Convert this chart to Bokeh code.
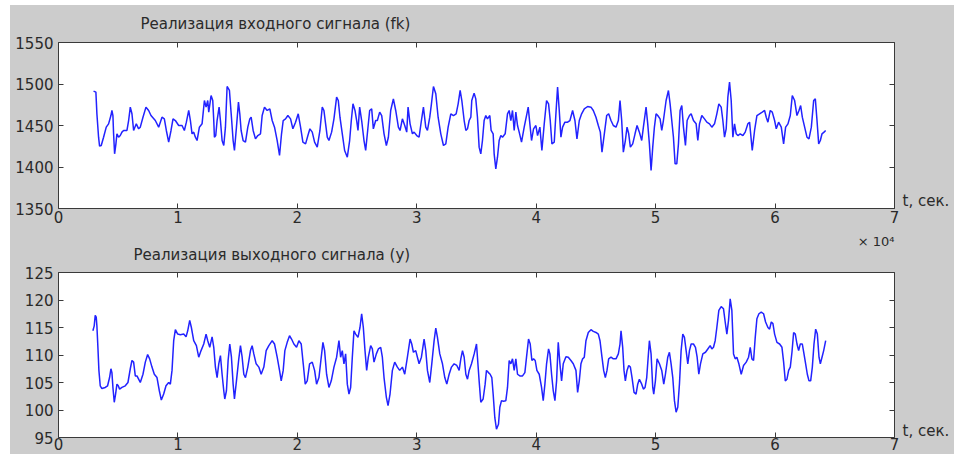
from bokeh.plotting import figure
from bokeh.models import LinearAxis, FixedTicker, Range1d, Title
from bokeh.layouts import column
from bokeh.embed import file_html
from bokeh.resources import INLINE

# ---------------- data (time in seconds) ----------------
t_in_a = [2935, 3131, 3215, 3355, 3439, 3578, 3774, 3998, 4193, 4389,
          4473, 4557, 4613, 4697, 4808, 4892, 5032, 5172, 5312, 5451,
          5731, 5871, 6011, 6150, 6290, 6514, 6709, 6849, 7073, 7324,
          7548, 7744, 8107, 8387, 8666, 8862, 9030, 9225, 9421, 9589,
          9785, 10064, 10344, 10539, 10707, 10903, 11043, 11182, 11322, 11462,
          11602, 11797, 12021, 12217, 12357, 12496, 12580, 12776, 12916, 13000,
          13055, 13167, 13279, 13447, 13559, 13698, 13838, 13978, 14118, 14313,
          14481, 14621, 14733, 14901, 15068, 15180, 15292, 15460, 15655, 15851,
          16019, 16130, 16298, 16494, 16690, 16913, 17053, 17249, 17473, 17696,
          17892, 18088, 18311, 18507, 18675, 18815, 19010, 19206, 19430, 19625,
          19849, 20073, 20268, 20464, 20688, 20883, 21051, 21247, 21443, 21666,
          21890, 22085, 22225, 22365, 22505, 22644, 22868, 23064, 23287, 23427,
          23567, 23763, 23958, 24182, 24378, 24517, 24657, 24825, 24965, 25077,
          25216, 25384, 25580, 25720, 25860, 26055, 26223, 26363, 26558, 26698,
          26894, 27062, 27257, 27453, 27621, 27816, 28040, 28236, 28459, 28599,
          28795, 28991, 29158, 29270, 29438, 29634, 29773, 29997, 30193, 30388,
          30556, 30752, 30892, 31087, 31227, 31395, 31591, 31786, 32010, 32234,
          32429, 32625, 32849, 33072, 33296, 33464, 33631, 33771, 33967, 34107,
          34246, 34386, 34526]
fk_a = [1491.4, 1490.2, 1464.1, 1435.9, 1425.1, 1425.9, 1435.9, 1448.0, 1452.0, 1462.0,
        1468.1, 1462.0, 1440.0, 1415.9, 1427.9, 1440.0, 1435.9, 1437.9, 1442.0, 1444.0,
        1444.0, 1456.0, 1472.1, 1464.1, 1444.0, 1452.0, 1446.0, 1448.0, 1460.0, 1472.1,
        1468.1, 1462.0, 1456.0, 1448.0, 1460.0, 1458.0, 1444.0, 1429.9, 1444.0, 1458.0,
        1456.0, 1450.0, 1450.0, 1444.0, 1454.0, 1468.1, 1456.0, 1440.0, 1442.0, 1435.9,
        1431.9, 1448.0, 1452.0, 1480.1, 1472.1, 1480.1, 1466.1, 1486.1, 1480.1, 1456.0,
        1435.9, 1437.9, 1456.0, 1472.1, 1456.0, 1431.9, 1425.9, 1448.0, 1497.0, 1492.2,
        1460.0, 1431.9, 1419.9, 1448.0, 1478.1, 1464.1, 1444.0, 1431.9, 1429.9, 1448.0,
        1458.0, 1460.0, 1444.0, 1433.9, 1437.9, 1440.0, 1462.0, 1472.1, 1468.1, 1470.1,
        1456.0, 1448.0, 1431.9, 1413.9, 1440.0, 1456.0, 1458.0, 1462.0, 1458.0, 1446.0,
        1454.0, 1464.1, 1448.0, 1429.9, 1427.9, 1437.9, 1446.0, 1442.0, 1429.9, 1423.9,
        1444.0, 1472.1, 1468.1, 1452.0, 1435.9, 1431.9, 1442.0, 1458.0, 1484.1, 1480.1,
        1460.0, 1440.0, 1419.9, 1411.8, 1431.9, 1456.0, 1476.1, 1468.1, 1456.0, 1444.0,
        1472.1, 1456.0, 1431.9, 1419.9, 1440.0, 1468.1, 1470.1, 1446.0, 1456.0, 1456.0,
        1466.1, 1462.0, 1440.0, 1425.9, 1435.9, 1468.1, 1482.1, 1468.1, 1448.0, 1444.0,
        1458.0, 1450.0, 1442.0, 1472.1, 1452.0, 1440.0, 1442.0, 1437.9, 1435.9, 1456.0,
        1472.1, 1448.0, 1444.0, 1460.0, 1476.1, 1497.0, 1488.2, 1460.0, 1440.0, 1425.9,
        1427.9, 1448.0, 1464.1, 1462.0, 1464.1, 1476.1, 1492.2, 1480.1, 1456.0, 1444.0,
        1446.0, 1456.0, 1460.0]
t_in_b = [34604, 34800, 34940, 35080, 35220, 35359, 35499, 35639, 35779, 35918,
          36114, 36226, 36394, 36478, 36617, 36757, 36897, 37037, 37176, 37400,
          37596, 37736, 37875, 38015, 38155, 38295, 38434, 38574, 38770, 38994,
          39189, 39329, 39469, 39609, 39776, 39972, 40112, 40308, 40475, 40671,
          40867, 41034, 41174, 41314, 41510, 41649, 41789, 41929, 42069, 42209,
          42404, 42628, 42824, 43047, 43243, 43411, 43606, 43802, 44026, 44305,
          44585, 44780, 45004, 45200, 45368, 45507, 45703, 45899, 46066, 46262,
          46458, 46681, 46877, 47017, 47157, 47296, 47464, 47604, 47744, 47884,
          48079, 48275, 48443, 48638, 48834, 48974, 49198, 49337, 49477, 49617,
          49757, 49896, 50036, 50176, 50372, 50511, 50651, 50875, 51071, 51210,
          51350, 51490, 51630, 51769, 51909, 52049, 52189, 52329, 52496, 52636,
          52832, 52972, 53167, 53391, 53531, 53670, 53866, 54090, 54286, 54509,
          54705, 54929, 55124, 55292, 55488, 55628, 55767, 55907, 56047, 56187,
          56326, 56466, 56606, 56746, 56885, 57081, 57305, 57500, 57724, 57864,
          58088, 58283, 58479, 58703, 58926, 59122, 59262, 59401, 59597, 59765,
          59960, 60100, 60296, 60520, 60715, 60883, 61079, 61274, 61442, 61638,
          61833, 62001, 62141, 62281, 62476, 62672, 62840, 63036, 63231, 63371,
          63511, 63651, 63790, 63930, 64098, 64238]
fk_b = [1480.1, 1489.0, 1482.1, 1460.0, 1423.9, 1415.9, 1431.9, 1456.0, 1462.0, 1458.0,
        1462.0, 1444.0, 1440.0, 1415.9, 1397.8, 1411.8, 1431.9, 1437.9, 1435.9, 1440.0,
        1464.1, 1468.1, 1456.0, 1468.1, 1444.0, 1466.1, 1450.0, 1442.0, 1429.9, 1448.0,
        1462.0, 1472.1, 1452.0, 1431.9, 1446.0, 1450.0, 1437.9, 1448.0, 1419.9, 1452.0,
        1480.1, 1476.1, 1456.0, 1427.9, 1429.9, 1464.1, 1496.2, 1468.1, 1435.9, 1448.0,
        1454.0, 1454.0, 1456.0, 1468.1, 1456.0, 1433.9, 1456.0, 1464.1, 1470.1, 1472.9,
        1472.1, 1468.1, 1460.0, 1450.0, 1442.0, 1417.9, 1440.0, 1462.0, 1464.1, 1456.0,
        1450.0, 1448.0, 1456.0, 1480.1, 1456.0, 1417.9, 1431.9, 1448.0, 1440.0, 1423.9,
        1427.9, 1440.0, 1450.0, 1442.0, 1431.9, 1448.0, 1472.1, 1452.0, 1427.9, 1395.8,
        1423.9, 1448.0, 1464.1, 1462.0, 1458.0, 1444.0, 1456.0, 1480.1, 1492.2, 1476.1,
        1456.0, 1435.9, 1403.8, 1403.8, 1427.9, 1468.1, 1474.1, 1448.0, 1425.9, 1456.0,
        1462.0, 1464.1, 1456.0, 1452.0, 1431.9, 1452.0, 1462.0, 1458.0, 1454.0, 1452.0,
        1448.0, 1452.0, 1464.1, 1476.1, 1472.1, 1456.0, 1435.9, 1446.0, 1484.1, 1502.2,
        1480.1, 1435.9, 1452.0, 1440.0, 1437.9, 1440.0, 1437.9, 1442.0, 1452.0, 1454.0,
        1419.9, 1444.0, 1462.0, 1464.1, 1466.1, 1468.1, 1460.0, 1454.0, 1468.1, 1466.1,
        1456.0, 1446.0, 1454.0, 1448.0, 1427.9, 1448.0, 1452.0, 1462.0, 1486.1, 1480.1,
        1462.0, 1468.1, 1474.1, 1460.0, 1448.0, 1435.9, 1433.9, 1448.0, 1480.1, 1482.1,
        1456.0, 1427.9, 1431.9, 1440.0, 1442.0, 1444.0]

t_out_a = [2879, 2991, 3075, 3159, 3215, 3299, 3383, 3494, 3634, 3914,
           4110, 4277, 4389, 4473, 4557, 4669, 4780, 4892, 5004, 5116,
           5312, 5591, 5815, 6011, 6150, 6290, 6430, 6570, 6709, 6849,
           7073, 7269, 7464, 7632, 7827, 8023, 8247, 8443, 8610, 8806,
           9002, 9225, 9365, 9505, 9645, 9785, 9980, 10204, 10483, 10679,
           10819, 10987, 11126, 11322, 11546, 11742, 11937, 12161, 12357, 12496,
           12664, 12860, 13000, 13139, 13279, 13419, 13559, 13698, 13838, 13922,
           14062, 14202, 14341, 14481, 14621, 14733, 14901, 15096, 15236, 15376,
           15516, 15655, 15851, 16075, 16214, 16354, 16550, 16774, 16969, 17193,
           17389, 17612, 17892, 18088, 18311, 18507, 18647, 18815, 18954, 19150,
           19346, 19513, 19709, 19933, 20128, 20324, 20492, 20660, 20827, 21023,
           21247, 21443, 21610, 21806, 22001, 22141, 22281, 22449, 22644, 22840,
           23064, 23287, 23483, 23623, 23763, 23902, 24042, 24182, 24322, 24461,
           24601, 24741, 24881, 25077, 25244, 25384, 25524, 25664, 25803, 25943,
           26139, 26279, 26418, 26614, 26782, 26978, 27117, 27257, 27453, 27593,
           27760, 27956, 28152, 28375, 28571, 28795, 28991, 29214, 29438, 29578,
           29718, 29913, 30053, 30193, 30388, 30612, 30752, 30892, 31087, 31255,
           31451, 31591, 31730, 31926, 32150, 32345, 32513, 32709, 32905, 33128,
           33352, 33548, 33687, 33827, 33967, 34107, 34246, 34386, 34582, 34806,
           35001]
y_a = [114.4, 115.3, 117.2, 116.9, 115.3, 111.4, 107.2, 104.4, 103.9, 104.1,
       104.4, 105.9, 107.5, 106.8, 104.1, 101.4, 102.9, 104.7, 104.4, 103.8,
       104.1, 104.4, 105.0, 107.5, 109.0, 108.7, 106.2, 106.2, 105.6, 105.0,
       106.5, 108.7, 110.1, 109.3, 107.8, 106.5, 105.9, 103.5, 101.8, 102.9,
       104.4, 105.0, 104.7, 107.2, 112.6, 114.6, 113.8, 113.7, 113.8, 113.3,
       114.4, 116.3, 115.0, 112.6, 111.7, 109.6, 110.8, 112.0, 113.8, 112.6,
       111.4, 113.3, 111.4, 107.8, 105.9, 108.4, 109.9, 106.5, 103.5, 102.0,
       103.5, 109.0, 112.0, 109.6, 104.7, 102.0, 105.3, 109.3, 111.7, 109.6,
       106.5, 105.9, 107.8, 110.8, 111.7, 110.2, 108.4, 107.8, 106.5, 107.8,
       110.8, 111.7, 112.6, 112.0, 109.6, 107.2, 105.3, 107.2, 110.8, 112.3,
       113.5, 112.9, 112.0, 111.4, 112.6, 112.0, 108.4, 104.7, 105.3, 108.4,
       108.7, 107.2, 104.7, 105.9, 109.6, 112.3, 110.8, 106.5, 104.1, 105.3,
       107.8, 109.6, 112.6, 109.6, 110.8, 108.4, 110.2, 104.7, 102.9, 104.1,
       109.6, 114.4, 113.8, 113.2, 115.0, 117.5, 115.0, 110.8, 107.2, 109.6,
       111.7, 111.1, 108.7, 110.2, 111.1, 111.4, 109.6, 105.9, 102.3, 100.8,
       102.9, 107.2, 108.7, 107.8, 107.2, 107.8, 106.5, 109.6, 112.9, 112.0,
       110.5, 110.8, 109.6, 108.4, 109.6, 112.9, 110.8, 107.2, 105.0, 108.4,
       112.6, 114.9, 113.2, 110.2, 108.4, 105.9, 104.7, 106.5, 107.8, 108.4,
       108.1, 107.2, 109.3, 110.8, 109.6, 106.5, 105.6, 107.2, 108.4, 110.2,
       112.0]
t_out_b = [35080, 35220, 35359, 35555, 35723, 35835, 36002, 36142, 36282, 36394,
           36534, 36673, 36841, 36953, 37093, 37260, 37456, 37596, 37736, 37875,
           38015, 38155, 38295, 38434, 38630, 38854, 39049, 39189, 39357, 39497,
           39637, 39776, 39916, 40056, 40252, 40447, 40587, 40727, 40867, 41034,
           41146, 41286, 41426, 41566, 41705, 41845, 41985, 42125, 42264, 42488,
           42684, 42907, 43103, 43327, 43467, 43606, 43746, 43886, 44026, 44165,
           44361, 44585, 44780, 45004, 45200, 45340, 45507, 45647, 45787, 45927,
           46066, 46262, 46458, 46681, 46877, 47017, 47101, 47241, 47352, 47464,
           47604, 47744, 47884, 48023, 48191, 48359, 48499, 48638, 48834, 48974,
           49114, 49253, 49365, 49477, 49617, 49757, 49841, 49980, 50120, 50316,
           50511, 50679, 50819, 51015, 51154, 51294, 51434, 51574, 51713, 51853,
           51993, 52133, 52273, 52412, 52552, 52692, 52832, 52972, 53167, 53335,
           53475, 53614, 53754, 53950, 54173, 54369, 54565, 54705, 54845, 54984,
           55124, 55292, 55488, 55683, 55823, 55963, 56103, 56242, 56382, 56522,
           56662, 56802, 56969, 57165, 57361, 57584, 57780, 57920, 58060, 58199,
           58339, 58479, 58647, 58843, 59038, 59206, 59402, 59541, 59681, 59821,
           59961, 60157, 60380, 60576, 60716, 60855, 60995, 61135, 61275, 61414,
           61554, 61694, 61834, 61973, 62113, 62281, 62421, 62560, 62700, 62840,
           62980, 63120, 63259, 63399, 63539, 63679, 63791, 63930, 64070, 64238]
y_b = [109.6, 105.3, 101.4, 102.0, 104.7, 107.2, 106.8, 106.5, 105.9, 102.9,
       98.6, 96.5, 97.4, 100.5, 101.7, 101.6, 101.7, 104.1, 109.0, 108.4,
       109.3, 107.2, 109.3, 106.5, 106.2, 106.2, 106.8, 109.6, 112.9, 112.0,
       109.0, 109.3, 109.0, 107.2, 106.5, 104.1, 101.7, 104.7, 108.4, 111.1,
       110.2, 106.5, 103.5, 101.7, 105.3, 112.3, 108.4, 105.3, 108.4, 109.7,
       109.6, 109.0, 108.4, 107.2, 103.2, 105.3, 108.4, 109.3, 109.6, 112.6,
       114.1, 114.6, 114.3, 114.1, 113.8, 112.6, 109.6, 107.2, 105.9, 107.2,
       109.3, 109.6, 109.3, 109.3, 110.2, 112.0, 114.4, 111.4, 107.2, 105.3,
       107.2, 108.1, 107.8, 105.9, 103.2, 102.9, 104.7, 105.6, 104.7, 103.8,
       104.1, 105.9, 109.3, 112.6, 110.2, 104.1, 102.9, 105.3, 109.3, 108.4,
       107.2, 104.7, 106.5, 109.6, 110.5, 108.4, 105.9, 101.7, 99.6, 100.5,
       104.7, 110.8, 113.8, 113.2, 110.8, 108.4, 110.8, 112.0, 112.0, 111.4,
       109.6, 106.5, 108.4, 110.2, 110.5, 111.1, 111.7, 111.1, 111.4, 112.6,
       115.0, 118.1, 118.8, 118.4, 116.0, 113.8, 116.3, 120.2, 118.1, 110.2,
       109.3, 109.6, 108.4, 106.5, 108.1, 108.7, 109.6, 111.4, 109.3, 109.0,
       113.2, 116.6, 117.5, 117.8, 117.5, 116.0, 115.0, 114.7, 116.0, 115.7,
       113.8, 112.3, 112.0, 111.4, 108.7, 105.3, 105.6, 107.2, 107.8, 110.5,
       114.1, 113.8, 112.0, 110.8, 112.0, 112.0, 110.2, 108.4, 106.5, 105.3,
       105.3, 107.8, 112.0, 114.7, 113.8, 109.6, 108.4, 109.6, 110.8, 112.6]

x_ticks = [0, 10000, 20000, 30000, 40000, 50000, 60000, 70000]
x_tick_labels = ["0", "1", "2", "3", "4", "5", "6", "7"]
y_in_ticks = [1350, 1400, 1450, 1500, 1550]
y_out_ticks = [95, 100, 105, 110, 115, 120, 125]

title_in = "Реализация входного сигнала (fk)"
title_out = "Реализация выходного сигнала (y)"
x_unit = "t, сек."
x_scale_note = "× 10⁴"

# ---------------- styling ----------------
GRAY = "#cccccc"
INK = "#2a2a2a"
FONT = "DejaVu Sans"
LINE = "#2222ff"
TICK = "#3a3a3a"


def style_panel(p, yticks, x_standoff, unit_y):
    p.xgrid.visible = False
    p.ygrid.visible = False
    for ax in p.below:
        ax.ticker = FixedTicker(ticks=x_ticks)
        ax.major_label_overrides = {x: s for x, s in zip(x_ticks, x_tick_labels)}
        ax.major_label_standoff = x_standoff
    for ax in p.left:
        ax.ticker = FixedTicker(ticks=yticks)
        ax.major_label_standoff = 5
    # tick marks on the top and right edges (no labels)
    top = LinearAxis(ticker=FixedTicker(ticks=x_ticks),
                     major_label_overrides={x: "" for x in x_ticks})
    right = LinearAxis(ticker=FixedTicker(ticks=yticks),
                       major_label_overrides={y: "" for y in yticks})
    for ax in (top, right):
        ax.major_label_standoff = 0
    p.add_layout(top, "above")
    p.add_layout(right, "right")
    for ax in p.below + p.left + p.above + p.right:
        ax.axis_line_color = None
        ax.major_tick_in = 5
        ax.major_tick_out = 0
        ax.major_tick_line_color = TICK
        ax.minor_tick_line_color = None
    for ax in p.below + p.left:
        ax.major_label_text_font = FONT
        ax.major_label_text_font_size = "15px"
        ax.major_label_text_color = INK
    # "t, сек." to the right of the frame, near its bottom
    unit = LinearAxis(ticker=FixedTicker(ticks=[unit_y]),
                      major_label_overrides={unit_y: x_unit},
                      axis_line_color=None, major_tick_line_color=None,
                      minor_tick_line_color=None, major_label_standoff=2,
                      major_label_text_font=FONT, major_label_text_font_size="15px",
                      major_label_text_color=INK)
    p.add_layout(unit, "right")


def make_title(text, align, offset, standoff, size, valign):
    return Title(text=text, align=align, offset=offset, standoff=standoff,
                 vertical_align=valign,
                 text_font=FONT, text_font_size=size, text_font_style="normal",
                 text_color=INK)


p1 = figure(width=944, height=224, x_range=Range1d(0, 70000), y_range=Range1d(1350, 1550),
            output_backend="svg", toolbar_location=None,
            min_border_left=48, min_border_right=60, min_border_top=37, min_border_bottom=21,
            background_fill_color="white", border_fill_color=GRAY,
            outline_line_color=TICK, outline_line_width=1)
p1.title = None
style_panel(p1, y_in_ticks, 2, 1358.5)
p1.add_layout(make_title(title_in, "left", 82, 16, "15px", "top"), "above")
p1.line(t_in_a + t_in_b, fk_a + fk_b, line_color=LINE, line_width=1.5)

p2 = figure(width=944, height=225, x_range=Range1d(0, 70000), y_range=Range1d(95, 125),
            output_backend="svg", toolbar_location=None,
            min_border_left=48, min_border_right=60, min_border_top=43, min_border_bottom=17,
            background_fill_color="white", border_fill_color=GRAY,
            outline_line_color=TICK, outline_line_width=1)
p2.title = None
style_panel(p2, y_out_ticks, 0, 96.1)
p2.add_layout(make_title(title_out, "left", 75, 18, "15px", "bottom"), "above")
p2.add_layout(make_title(x_scale_note, "right", 0, -28, "13px", "bottom"), "above")
p2.line(t_out_a + t_out_b, y_a + y_b, line_color=LINE, line_width=1.5)

layout = column(p1, p2, spacing=0, styles={"background-color": GRAY})
layout.margin = (5, 0, 0, 10)
open("out.html", "w").write(file_html(layout, INLINE))
